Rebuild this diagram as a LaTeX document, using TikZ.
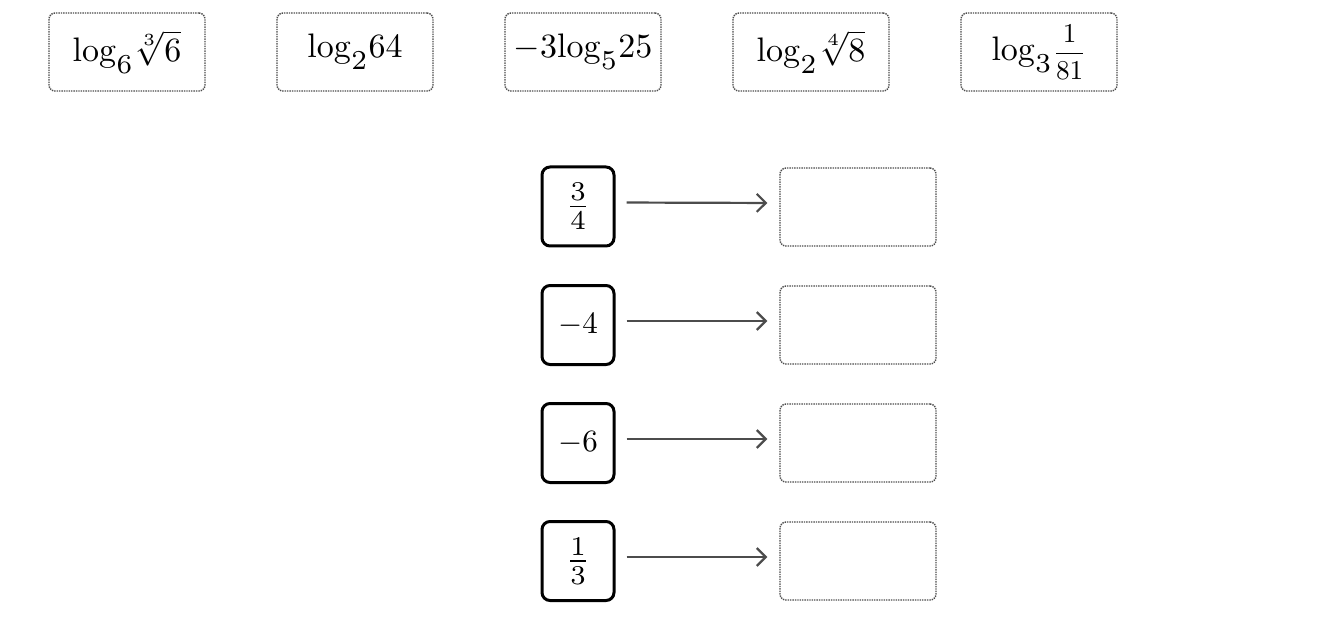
\documentclass[tikz,border=0pt]{standalone}
\usepackage{graphicx}
\usetikzlibrary{arrows.meta}
\newcommand{\bigtop}[1]{\scalebox{3.4}{#1}}
\newcommand{\bigsrc}[1]{\scalebox{3.1}{#1}}
\newcommand{\sbs}[1]{_{\raisebox{-0.12em}{\scalebox{1.15}{$\scriptstyle #1$}}}}
\newcommand{\srcfrac}[2]{\vcenter{\hbox{\scalebox{1.25}{$\frac{#1}{#2}$}}}}
\begin{document}
\begin{tikzpicture}[x=1pt,y=-1pt,
  topbox/.style={draw=black!70, densely dotted, line width=1.4pt, rounded corners=6pt,
    minimum width=156pt, minimum height=78pt, inner sep=0pt},
  srcbox/.style={draw=black, line width=3pt, rounded corners=8pt,
    minimum width=72pt, minimum height=79pt, inner sep=0pt},
  dstbox/.style={draw=black!70, densely dotted, line width=1.4pt, rounded corners=6pt,
    minimum width=156pt, minimum height=78pt, inner sep=0pt},
  conn/.style={draw=black!70, line width=2.2pt, -{Straight Barb[length=9pt,width=18pt,line width=2.2pt]},
    shorten <=11pt, shorten >=12pt}]
\useasboundingbox (0,0) rectangle (1340,644);
\node[topbox] (t1) at (127,52) {\bigtop{$\mathrm{log}\sbs{6}\sqrt[3]{6}$}};
\node[topbox] (t2) at (355,52) {\bigtop{$\mathrm{log}\sbs{2}64$}};
\node[topbox] (t3) at (583,52) {\bigtop{$-3\mathrm{log}\sbs{5}25$}};
\node[topbox] (t4) at (811,52) {\bigtop{$\mathrm{log}\sbs{2}\sqrt[4]{8}$}};
\node[topbox] (t5) at (1039,52) {\bigtop{$\mathrm{log}\sbs{3}\vcenter{\hbox{\scalebox{0.8}{$\displaystyle\frac{1}{81}$}}}$}};
\node[srcbox] (s1) at (578,206.5) {\bigsrc{$\srcfrac{3}{4}$}};
\node[srcbox] (s2) at (578,325) {\bigsrc{$-4$}};
\node[srcbox] (s3) at (578,443) {\bigsrc{$-6$}};
\node[srcbox] (s4) at (578,561) {\bigsrc{$\srcfrac{1}{3}$}};
\node[dstbox] (d1) at (858,207) {};
\node[dstbox] (d2) at (858,325) {};
\node[dstbox] (d3) at (858,443) {};
\node[dstbox] (d4) at (858,561) {};
\foreach \i in {1,2,3,4}
  \draw[conn] ([yshift=4pt]s\i.east) -- ([yshift=4pt]d\i.west);
\end{tikzpicture}
\end{document}
